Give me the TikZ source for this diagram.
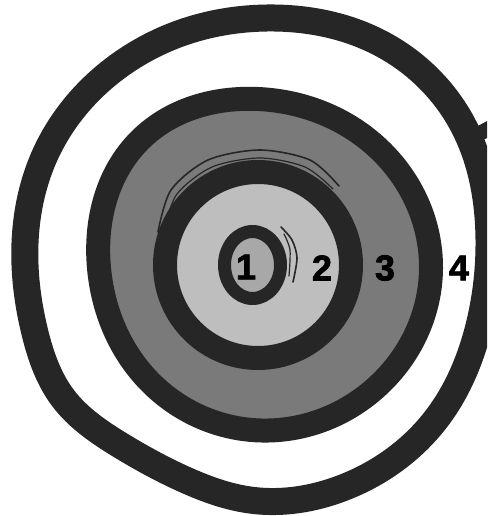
\documentclass[tikz,border=0pt]{standalone}
\usepackage{fontspec}
\setsansfont{Liberation Sans}
\newfontfamily\digitfont{Liberation Sans Bold}[FakeBold=2]
\usetikzlibrary{hobby}
\definecolor{ink}{RGB}{38,38,38}
\definecolor{zoneA}{RGB}{168,168,168}
\definecolor{zoneB}{RGB}{190,190,190}
\definecolor{zoneC}{RGB}{122,122,122}

\begin{document}
\begin{tikzpicture}[x=1pt, y=-1pt,
  ring/.style={draw=ink, line join=round},
  freehand/.style={ring, use Hobby shortcut, closed=true},
  sketch/.style={draw=ink, line width=1.6pt, line cap=round},
  lbl/.style={font=\digitfont\fontsize{36}{36}\selectfont, text=black, inner sep=0pt}]
  \useasboundingbox (0,0) rectangle (487,516);
  \clip (0,0) rectangle (487,516);
  \fill[white] (0,0) rectangle (487,516);

  % zone 4
  \draw[freehand, line width=27pt] (267,18) .. (380,43) .. (463,125) .. (489,240)
    .. (478,330) .. (437,418) .. (345,487) .. (250,500) .. (188,481) .. (120,445)
    .. (63,398) .. (35,333) .. (25,265) .. (45,155) .. (127,60) .. (190,30);
  \fill[ink] (476,127) -- (487,121) -- (487,138) -- (479,142) -- cycle;

  % zone 3
  \draw[freehand, fill=zoneC, line width=24pt] (258,99) .. (380,150) .. (431,268)
    .. (382,382) .. (252,430) .. (149,381) .. (99,268) .. (140,140);

  % zone 2
  \draw[sketch] plot[smooth] coordinates {(158,232) (171,190) (208,160) (260,150) (310,160) (339,186)};
  \draw[sketch, line width=1.2pt] plot[smooth] coordinates {(164,230) (177,194) (212,167) (260,158) (305,167) (333,189)};
  \draw[ring, fill=zoneB, line width=24pt] (258,265) circle[radius=93];

  % zone 1
  \draw[ring, fill=zoneA, line width=13pt] (252.5,265) ellipse[x radius=28, y radius=33.5];
  \draw[sketch] plot[smooth] coordinates {(281,227) (292,240) (297,258) (293,282)};
  \draw[sketch, line width=1.2pt] plot[smooth] coordinates {(284,234) (290,250) (289,276)};

  \node[lbl] (n1) at (246,267) {1};
  \node[lbl] (n2) at (322,268) {2};
  \node[lbl] (n3) at (385,268) {3};
  \node[lbl] (n4) at (459,268) {4};
\end{tikzpicture}
\end{document}
